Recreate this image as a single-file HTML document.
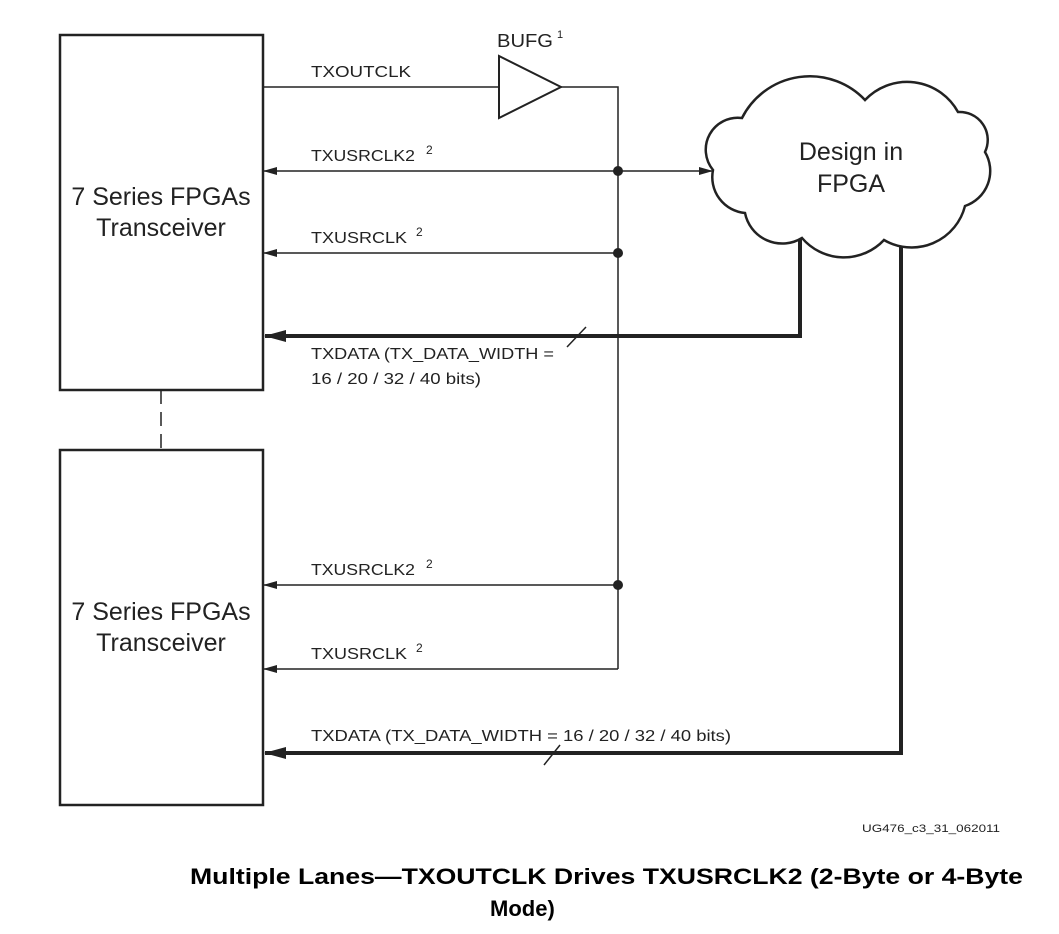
<!DOCTYPE html>
<html><head><style>
body{margin:0;background:#fff;}
svg{display:block;font-family:"Liberation Sans",Arial,sans-serif;}
</style></head><body>
<svg width="1059" height="934" viewBox="0 0 1059 934" xmlns="http://www.w3.org/2000/svg">
<defs>
<marker id="a" markerWidth="14" markerHeight="8" refX="13" refY="4" orient="auto" markerUnits="userSpaceOnUse"><path d="M0,0 L14,4 L0,8 Z" fill="#222"/></marker>
<marker id="b" markerWidth="22" markerHeight="12" refX="21" refY="6" orient="auto" markerUnits="userSpaceOnUse"><path d="M0,0 L22,6 L0,12 Z" fill="#222"/></marker>
</defs>
<g stroke="#222" fill="none">
<rect x="60" y="35" width="203" height="355" stroke-width="2.5"/>
<rect x="60" y="450" width="203" height="355" stroke-width="2.5"/>
<line x1="161" y1="390" x2="161" y2="450" stroke-width="1.5" stroke-dasharray="14,8"/>
<line x1="263" y1="87" x2="499" y2="87" stroke-width="1.5"/>
<path d="M499,56 L499,118 L561,87 Z" stroke-width="2"/>
<path d="M561,87 L618,87 L618,669" stroke-width="1.5"/>
<line x1="618" y1="171" x2="264" y2="171" stroke-width="1.5" marker-end="url(#a)"/>
<line x1="618" y1="171" x2="712" y2="171" stroke-width="1.5" marker-end="url(#a)"/>
<line x1="618" y1="253" x2="264" y2="253" stroke-width="1.5" marker-end="url(#a)"/>
<line x1="618" y1="585" x2="264" y2="585" stroke-width="1.5" marker-end="url(#a)"/>
<line x1="618" y1="669" x2="264" y2="669" stroke-width="1.5" marker-end="url(#a)"/>
<path d="M800,236 L800,336 L265,336" stroke-width="4" marker-end="url(#b)"/>
<path d="M901,240 L901,753 L265,753" stroke-width="4" marker-end="url(#b)"/>
<line x1="567" y1="347" x2="586" y2="327" stroke-width="1.5"/>
<line x1="544" y1="765" x2="560" y2="745" stroke-width="1.5"/>
<path d="M745,213 A36,36 0 0 1 713,170 A32,32 0 0 1 742,118 A76,76 0 0 1 865,100 A58,58 0 0 1 958,112 A28,28 0 0 1 985,152 A37,37 0 0 1 965,206 A55,55 0 0 1 884,240 A55,55 0 0 1 802,238 A38,38 0 0 1 745,213 Z" fill="#fff" stroke-width="2.5"/>
</g>
<g fill="#222">
<circle cx="618" cy="171" r="5"/><circle cx="618" cy="253" r="5"/><circle cx="618" cy="585" r="5"/>
</g>
<g fill="#222" font-size="16">
<text x="311" y="77" textLength="100" lengthAdjust="spacingAndGlyphs">TXOUTCLK</text>
<text x="497" y="47" font-size="18" textLength="56" lengthAdjust="spacingAndGlyphs">BUFG</text><text x="557" y="38" font-size="11">1</text>
<text x="311" y="161" textLength="104" lengthAdjust="spacingAndGlyphs">TXUSRCLK2</text><text x="426" y="154" font-size="12">2</text>
<text x="311" y="243" textLength="96" lengthAdjust="spacingAndGlyphs">TXUSRCLK</text><text x="416" y="236" font-size="12">2</text>
<text x="311" y="359" textLength="243" lengthAdjust="spacingAndGlyphs">TXDATA (TX_DATA_WIDTH =</text>
<text x="311" y="384" textLength="170" lengthAdjust="spacingAndGlyphs">16 / 20 / 32 / 40 bits)</text>
<text x="311" y="575" textLength="104" lengthAdjust="spacingAndGlyphs">TXUSRCLK2</text><text x="426" y="568" font-size="12">2</text>
<text x="311" y="659" textLength="96" lengthAdjust="spacingAndGlyphs">TXUSRCLK</text><text x="416" y="652" font-size="12">2</text>
<text x="311" y="741" textLength="420" lengthAdjust="spacingAndGlyphs">TXDATA (TX_DATA_WIDTH = 16 / 20 / 32 / 40 bits)</text>
<text x="862" y="832" font-size="11" textLength="138" lengthAdjust="spacingAndGlyphs">UG476_c3_31_062011</text>
</g>
<g fill="#222" font-size="25" text-anchor="middle">
<text x="161" y="205">7 Series FPGAs</text>
<text x="161" y="236">Transceiver</text>
<text x="161" y="620">7 Series FPGAs</text>
<text x="161" y="651">Transceiver</text>
<text x="851" y="160">Design in</text>
<text x="851" y="192">FPGA</text>
</g>
<g fill="#000" font-size="22" font-weight="bold">
<text x="190" y="884" textLength="833" lengthAdjust="spacingAndGlyphs">Multiple Lanes—TXOUTCLK Drives TXUSRCLK2 (2-Byte or 4-Byte</text>
<text x="490" y="916">Mode)</text>
</g>
</svg>
</body></html>
